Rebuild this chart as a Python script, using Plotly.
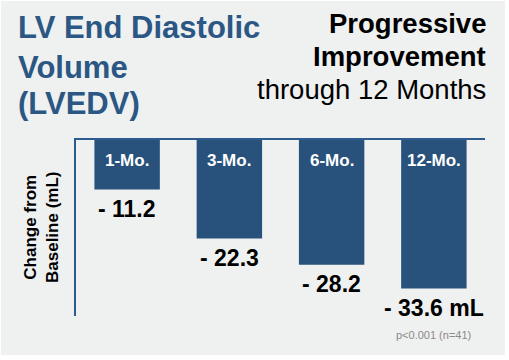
import plotly.graph_objects as go

categories = ["1-Mo.", "3-Mo.", "6-Mo.", "12-Mo."]
values = [-11.2, -22.3, -28.2, -33.6]
value_suffix = ["", "", "", " mL"]
title_lines = ["LV End Diastolic", "Volume", "(LVEDV)"]
subtitle_bold = ["Progressive", "Improvement"]
subtitle_regular = "through 12 Months"
y_title = "Change from<br>Baseline (mL)"
footnote = "p<0.001 (n=41)"

W, H = 509, 360
L, R, T, B = 76, 24, 140, 44
PW, PH = W - L - R, H - T - B


def px_x(px):
    return (px - L) / PW


def px_y(py):
    return (H - B - py) / PH


BAR = "#28527c"
TITLE = "#2b5784"
BG = "#eff0f0"
FONT = "Liberation Sans, Arial, sans-serif"

fig = go.Figure(
    go.Bar(
        x=categories,
        y=values,
        marker=dict(color=BAR, line=dict(width=0)),
        width=0.64,
        hoverinfo="skip",
    )
)

annotations = []
for c, v, s in zip(categories, values, value_suffix):
    annotations.append(dict(
        x=c, y=0, xref="x", yref="y", text=f"<b>{c}</b>", showarrow=False,
        yanchor="middle", yshift=-20,
        font=dict(family=FONT, size=17, color="white"),
    ))
    annotations.append(dict(
        x=c, y=v, xref="x", yref="y", text=f"<b>- {abs(v):.1f}{s}</b>", showarrow=False,
        yanchor="middle", yshift=-19,
        font=dict(family=FONT, size=23, color="black"),
    ))

for line, py in zip(title_lines, [28, 67, 103]):
    annotations.append(dict(
        x=px_x(16), y=px_y(py), xref="paper", yref="paper", text=f"<b>{line}</b>",
        showarrow=False, xanchor="left", yanchor="middle",
        font=dict(family=FONT, size=31, color=TITLE),
    ))

for line, py in zip(subtitle_bold + [subtitle_regular], [24, 57, 89]):
    txt = f"<b>{line}</b>" if line in subtitle_bold else line
    annotations.append(dict(
        x=px_x(488), y=px_y(py), xref="paper", yref="paper", text=txt,
        showarrow=False, xanchor="right", yanchor="middle",
        font=dict(family=FONT, size=27.5, color="black"),
    ))

annotations.append(dict(
    x=px_x(41), y=0.5, xref="paper", yref="paper", text=f"<b>{y_title}</b>",
    showarrow=False, textangle=-90, xanchor="center", yanchor="middle",
    font=dict(family=FONT, size=17, color="black"),
))

annotations.append(dict(
    x=px_x(433), y=px_y(335), xref="paper", yref="paper", text=footnote,
    showarrow=False, xanchor="center", yanchor="middle",
    font=dict(family=FONT, size=11, color="#8a8a8a"),
))

fig.update_layout(
    width=W, height=H,
    margin=dict(l=L, r=R, t=T, b=B, pad=0),
    paper_bgcolor="white",
    plot_bgcolor=BG,
    showlegend=False,
    bargap=0.36,
    annotations=annotations,
    shapes=[dict(
        type="rect", xref="paper", yref="paper", layer="below",
        x0=px_x(1), x1=px_x(505), y0=px_y(355), y1=px_y(1),
        fillcolor=BG, line=dict(width=0),
    )],
    xaxis=dict(
        side="top", showline=True, linecolor="#2d5b8e", linewidth=1.5,
        showticklabels=False, ticks="", showgrid=False, zeroline=False,
        range=[-0.5, 3.5], fixedrange=True,
    ),
    yaxis=dict(
        range=[-39.8, 0], showline=True, linecolor="#2d5b8e", linewidth=1.5,
        showticklabels=False, ticks="", showgrid=False, zeroline=False,
        fixedrange=True,
    ),
)

fig.write_html(
    "out.html",
    config={"displayModeBar": False},
    post_script="document.body.style.margin='0';document.body.style.overflow='hidden';",
)
